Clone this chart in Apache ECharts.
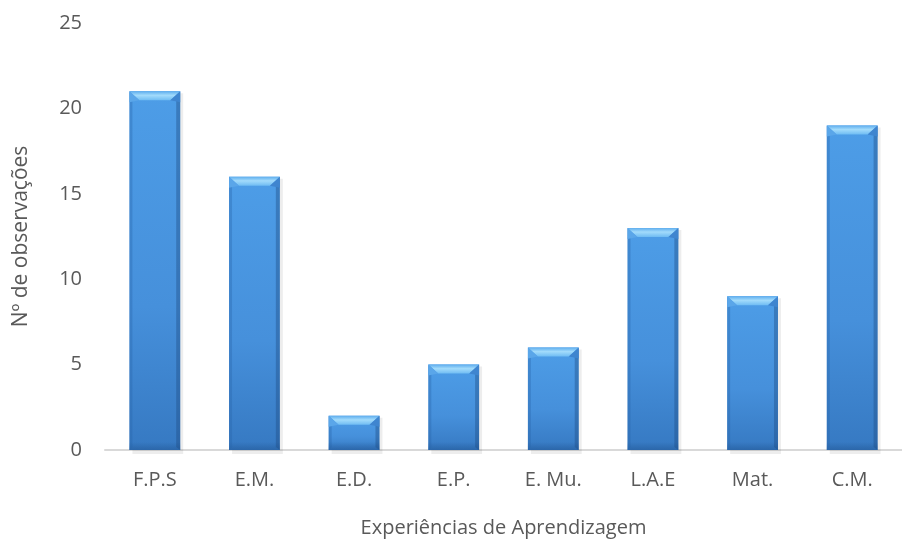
<!DOCTYPE html>
<html><head><meta charset="utf-8">
<script src="https://cdn.jsdelivr.net/npm/echarts@6/dist/echarts.min.js"></script>
<style>html,body{margin:0;padding:0;background:#fff}#c{width:902px;height:543px}</style>
</head><body><div id="c"></div>
<script>
const categories = ['F.P.S','E.M.','E.D.','E.P.','E. Mu.','L.A.E','Mat.','C.M.'];
const values = [21,16,2,5,6,13,9,19];
const yTicks = [0,5,10,15,20,25];

const FONT = '"Open Sans", sans-serif';
const chart = echarts.init(document.getElementById('c'));

function renderBar(params, api) {
  const idx = api.value(0);
  const top = api.coord([idx, api.value(1)]);
  const base = api.coord([idx, 0]);
  const bw = api.size([1, 0])[0] * 0.51;
  const x = top[0] - bw / 2, y = top[1], h = base[1] - top[1];
  const bev = Math.min(9, h / 2);
  const side = 3;
  const b = base[1];
  const children = [
    {type: 'rect', shape: {x: x + 3, y: y + 2, width: bw, height: h + 2},
      style: {fill: 'rgba(0,0,0,0.07)'}},
    {type: 'rect', shape: {x: x, y: y, width: bw, height: h},
      style: {fill: new echarts.graphic.LinearGradient(0,0,0,1,[
        {offset:0, color:'#4d9de7'},{offset:0.6, color:'#4690db'},{offset:1, color:'#3679c2'}])}},
    {type: 'rect', shape: {x: x, y: b - 8, width: bw, height: 8},
      style: {fill: new echarts.graphic.LinearGradient(0,0,0,1,[
        {offset:0, color:'rgba(30,80,140,0)'},{offset:1, color:'rgba(30,80,140,0.45)'}])}},
    // left side
    {type: 'polygon', shape: {points: [[x,y],[x+side,y+bev],[x+side,b-side],[x,b]]},
      style: {fill: 'rgba(40,100,170,0.35)'}},
    // right side
    {type: 'polygon', shape: {points: [[x+bw,y],[x+bw-side-1,y+bev],[x+bw-side-1,b-side],[x+bw,b]]},
      style: {fill: 'rgba(30,75,130,0.4)'}},
    // top bevel
    {type: 'polygon', shape: {points: [[x,y],[x+bw,y],[x+bw-bev*1.1,y+bev],[x+bev*1.1,y+bev]]},
      style: {fill: new echarts.graphic.LinearGradient(0,0,0,1,[
        {offset:0, color:'#5eadee'},{offset:0.45, color:'#a2dbfb'},{offset:1, color:'#6fbcf3'}])}},
    {type: 'polygon', shape: {points: [[x,y],[x+bev*1.1,y+bev],[x,y+bev+2]]},
      style: {fill: '#5aa6e9'}},
    {type: 'polygon', shape: {points: [[x+bw,y],[x+bw-bev*1.1,y+bev],[x+bw,y+bev+2]]},
      style: {fill: '#3f85cf'}}
  ];
  return {type: 'group', children};
}

chart.setOption({
  animation: false,
  backgroundColor: '#fff',
  grid: {left: 105, right: -13, top: 23, bottom: 92},
  xAxis: {
    type: 'category', data: categories,
    name: 'Experiências de Aprendizagem', nameLocation: 'middle', nameGap: 68,
    nameTextStyle: {color: '#595959', fontSize: 20, fontFamily: FONT},
    axisLine: {show: true, lineStyle: {color: '#d9d9d9', width: 2}},
    axisTick: {show: false},
    axisLabel: {color: '#595959', fontSize: 20, fontFamily: FONT, margin: 20}
  },
  yAxis: {
    type: 'value', min: yTicks[0], max: yTicks[yTicks.length-1], interval: 5,
    name: 'Nº de observações', nameLocation: 'middle', nameGap: 73, nameRotate: 90,
    nameTextStyle: {color: '#595959', fontSize: 21, fontFamily: FONT},
    axisLine: {show: false}, axisTick: {show: false},
    splitLine: {show: false},
    axisLabel: {color: '#595959', fontSize: 20, fontFamily: FONT, margin: 23}
  },
  series: [{
    type: 'custom',
    renderItem: renderBar,
    encode: {x: 0, y: 1},
    data: values.map((v, i) => [i, v])
  }]
});
</script></body></html>
